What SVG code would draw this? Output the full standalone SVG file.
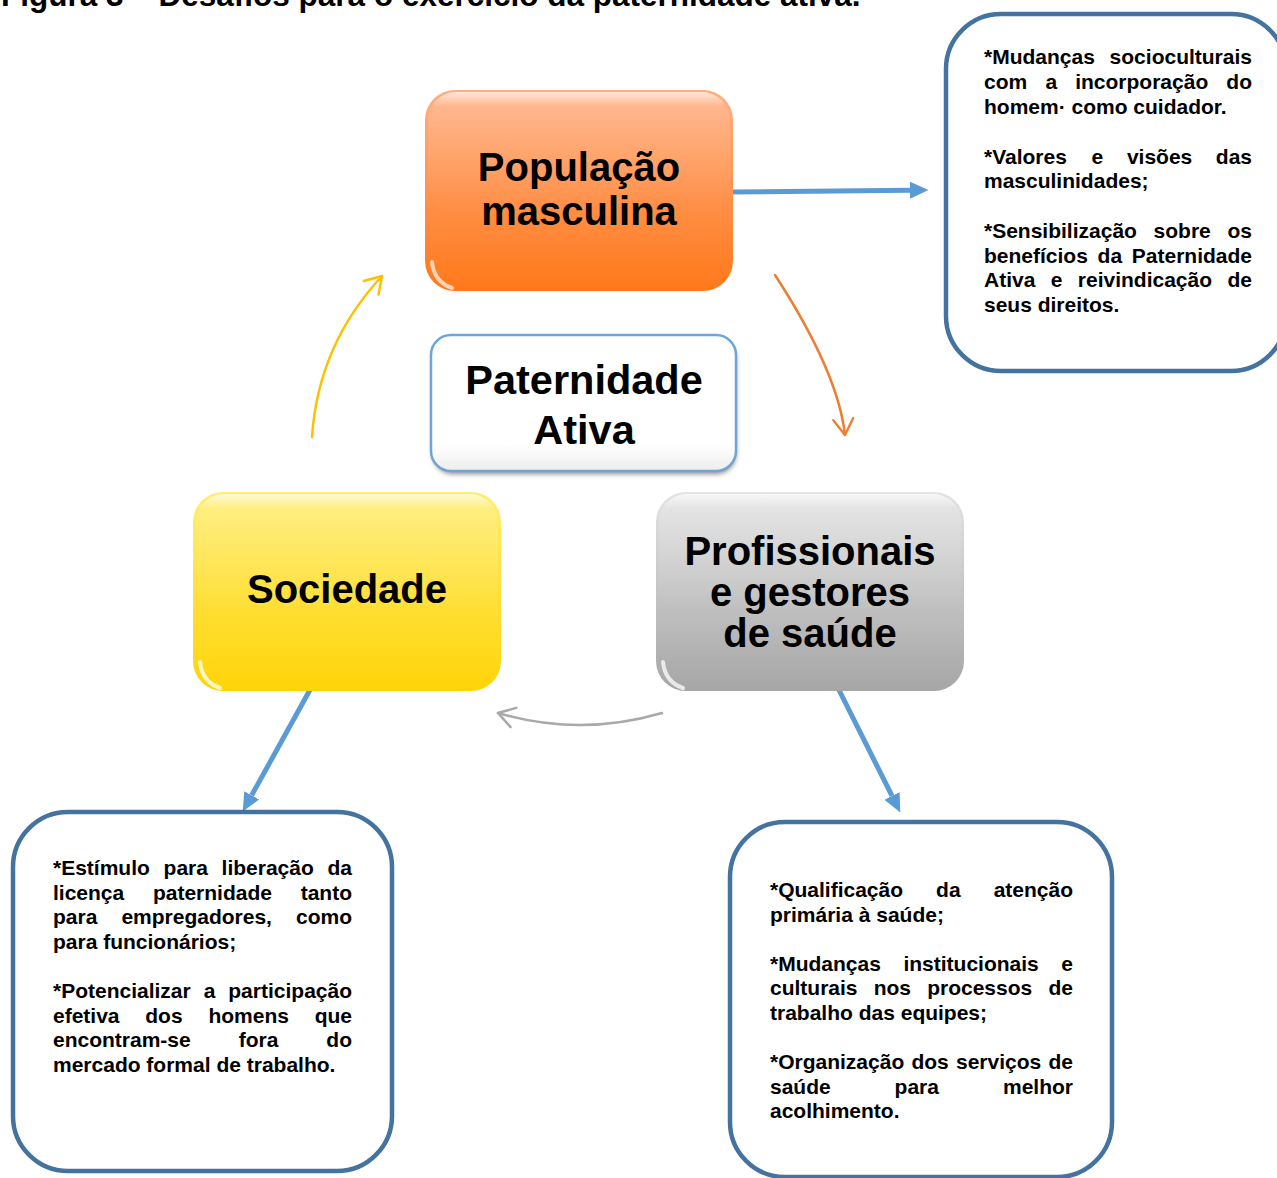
<svg xmlns="http://www.w3.org/2000/svg" width="1277" height="1178" viewBox="0 0 1277 1178">
<style>
text{font-family:"Liberation Sans",Arial,sans-serif;font-weight:bold;fill:#000}
.title{font-size:31.5px}
.big{font-size:40px;text-anchor:middle}
.body{font-size:21px}
.e{text-anchor:end}
.tbox{fill:#fff;stroke:#44739F;stroke-width:4.5}
.blue{stroke:#5B9BD5;stroke-width:5;fill:none}
.curve{fill:none;stroke-width:2.5;stroke-linecap:round}
</style>
<defs>
<linearGradient id="gOr" x1="0" y1="0" x2="0" y2="1">
<stop offset="0" stop-color="#FFAE82"/><stop offset="1" stop-color="#FF781A"/>
</linearGradient>
<linearGradient id="gYe" x1="0" y1="0" x2="0" y2="1">
<stop offset="0" stop-color="#FFEE72"/><stop offset="1" stop-color="#FFD408"/>
</linearGradient>
<linearGradient id="gGr" x1="0" y1="0" x2="0" y2="1">
<stop offset="0" stop-color="#E4E4E4"/><stop offset="1" stop-color="#A6A6A6"/>
</linearGradient>
<linearGradient id="gWh" x1="0" y1="0" x2="0" y2="1">
<stop offset="0" stop-color="#FFFFFF"/><stop offset="0.8" stop-color="#FFFFFF"/><stop offset="1" stop-color="#EDEDED"/>
</linearGradient>
<linearGradient id="gGloss" x1="0" y1="0" x2="0" y2="1">
<stop offset="0" stop-color="#FFFFFF" stop-opacity="0.7"/><stop offset="0.12" stop-color="#FFFFFF" stop-opacity="0.15"/><stop offset="1" stop-color="#FFFFFF" stop-opacity="0"/>
</linearGradient>
<filter id="shadow" x="-10%" y="-10%" width="120%" height="130%">
<feGaussianBlur stdDeviation="2.5"/>
</filter>
<marker id="mBlue" viewBox="0 -9 19 18" markerWidth="19" markerHeight="18" refX="0" refY="0" orient="auto" markerUnits="userSpaceOnUse">
<path d="M0,-8.5 L18.5,0 L0,8.5 Z" fill="#5B9BD5"/>
</marker>
<marker id="mYe" viewBox="-20 -12 24 24" markerWidth="24" markerHeight="24" refX="0" refY="0" orient="auto" markerUnits="userSpaceOnUse">
<path d="M-16,-10 L0,0 L-16,10" fill="none" stroke="#FFC000" stroke-width="2.5" stroke-linecap="round" stroke-linejoin="round"/>
</marker>
<marker id="mOr" viewBox="-20 -12 24 24" markerWidth="24" markerHeight="24" refX="0" refY="0" orient="auto" markerUnits="userSpaceOnUse">
<path d="M-16,-10 L0,0 L-16,10" fill="none" stroke="#ED7D31" stroke-width="2.3" stroke-linecap="round" stroke-linejoin="round"/>
</marker>
<marker id="mGr" viewBox="-20 -12 24 24" markerWidth="24" markerHeight="24" refX="0" refY="0" orient="auto" markerUnits="userSpaceOnUse">
<path d="M-16,-10 L0,0 L-16,10" fill="none" stroke="#A9A9A9" stroke-width="2.5" stroke-linecap="round" stroke-linejoin="round"/>
</marker>
</defs>
<rect width="1277" height="1178" fill="#fff"/>

<text class="title" x="1" y="6">Figura 3 – Desafios para o exercício da paternidade ativa.</text>

<g id="connectors">
<line class="blue" x1="730" y1="192" x2="910" y2="190.2" marker-end="url(#mBlue)"/>
<line class="blue" x1="311" y1="688" x2="251.7" y2="795.3" marker-end="url(#mBlue)"/>
<line class="blue" x1="838" y1="688" x2="892" y2="795.9" marker-end="url(#mBlue)"/>
<path class="curve" stroke="#FFC000" d="M312,437 Q318,345 382,276" marker-end="url(#mYe)"/>
<path class="curve" stroke="#ED7D31" stroke-width="2.2" d="M775,275 Q838,372 845,435" marker-end="url(#mOr)"/>
<path class="curve" stroke="#A9A9A9" d="M662,713 Q580,737 498,713" marker-end="url(#mGr)"/>
</g>

<g id="node-populacao">
<rect x="425" y="90" width="308" height="201" rx="30" fill="url(#gOr)"/>
<rect x="428" y="92" width="302" height="120" rx="28" fill="url(#gGloss)"/>
<path d="M432,262 Q434,282 452,288" fill="none" stroke="#FFE2CC" stroke-width="4" stroke-linecap="round" opacity="0.85"/>
<text class="big" x="579" y="181">População</text>
<text class="big" x="579" y="225">masculina</text>
</g>

<g id="node-paternidade">
<rect x="433" y="339" width="303" height="135" rx="20" fill="#8C8C8C" filter="url(#shadow)"/>
<rect x="431" y="335" width="305" height="136" rx="20" fill="url(#gWh)" stroke="#6FA4D8" stroke-width="2.5"/>
<text class="big" x="584" y="394" style="font-size:41.5px">Paternidade</text>
<text class="big" x="584" y="444" style="font-size:41.5px">Ativa</text>
</g>

<g id="node-sociedade">
<rect x="193" y="492" width="308" height="199" rx="30" fill="url(#gYe)"/>
<rect x="196" y="494" width="302" height="120" rx="28" fill="url(#gGloss)"/>
<path d="M200,662 Q202,682 220,688" fill="none" stroke="#FFFBE0" stroke-width="4" stroke-linecap="round" opacity="0.85"/>
<text class="big" x="347" y="603">Sociedade</text>
</g>

<g id="node-profissionais">
<rect x="656" y="492" width="308" height="199" rx="30" fill="url(#gGr)"/>
<rect x="659" y="494" width="302" height="120" rx="28" fill="url(#gGloss)"/>
<path d="M663,662 Q665,682 683,688" fill="none" stroke="#F4F4F4" stroke-width="4" stroke-linecap="round" opacity="0.85"/>
<text class="big" x="810" y="565">Profissionais</text>
<text class="big" x="810" y="606">e gestores</text>
<text class="big" x="810" y="647">de saúde</text>
</g>

<g id="box-populacao">
<rect class="tbox" x="946" y="14" width="340" height="357" rx="55"/>
<text class="body" y="64"><tspan x="984">*Mudanças</tspan><tspan class="e" x="1252">socioculturais</tspan></text>
<text class="body" y="89"><tspan x="984">com</tspan><tspan x="1045.4">a</tspan><tspan x="1075.2">incorporação</tspan><tspan class="e" x="1252">do</tspan></text>
<text class="body" y="114"><tspan x="984">homem· como cuidador.</tspan></text>
<text class="body" y="163.5"><tspan x="984">*Valores</tspan><tspan x="1091.6">e</tspan><tspan x="1126.9">visões</tspan><tspan class="e" x="1252">das</tspan></text>
<text class="body" y="188.3"><tspan x="984">masculinidades;</tspan></text>
<text class="body" y="237.8"><tspan x="984">*Sensibilização</tspan><tspan x="1153.6">sobre</tspan><tspan class="e" x="1252">os</tspan></text>
<text class="body" y="262.6"><tspan x="984">benefícios</tspan><tspan x="1097.6">da</tspan><tspan class="e" x="1252">Paternidade</tspan></text>
<text class="body" y="287.4"><tspan x="984">Ativa</tspan><tspan x="1050.7">e</tspan><tspan x="1077.8">reivindicação</tspan><tspan class="e" x="1252">de</tspan></text>
<text class="body" y="312.2"><tspan x="984">seus direitos.</tspan></text>
</g>

<g id="box-sociedade">
<rect class="tbox" x="13" y="812" width="379" height="359" rx="55"/>
<text class="body" y="875"><tspan x="53">*Estímulo</tspan><tspan x="163.6">para</tspan><tspan x="221.6">liberação</tspan><tspan class="e" x="352">da</tspan></text>
<text class="body" y="899.6"><tspan x="53">licença</tspan><tspan x="152.9">paternidade</tspan><tspan class="e" x="352">tanto</tspan></text>
<text class="body" y="924.2"><tspan x="53">para</tspan><tspan x="121.4">empregadores,</tspan><tspan class="e" x="352">como</tspan></text>
<text class="body" y="948.8"><tspan x="53">para funcionários;</tspan></text>
<text class="body" y="998"><tspan x="53">*Potencializar</tspan><tspan x="203.7">a</tspan><tspan class="e" x="352">participação</tspan></text>
<text class="body" y="1022.6"><tspan x="53">efetiva</tspan><tspan x="145.3">dos</tspan><tspan x="208.4">homens</tspan><tspan class="e" x="352">que</tspan></text>
<text class="body" y="1047.2"><tspan x="53">encontram-se</tspan><tspan x="238.7">fora</tspan><tspan class="e" x="352">do</tspan></text>
<text class="body" y="1071.8"><tspan x="53">mercado formal de trabalho.</tspan></text>
</g>

<g id="box-profissionais">
<rect class="tbox" x="730" y="822" width="382" height="355" rx="55"/>
<text class="body" y="897"><tspan x="770">*Qualificação</tspan><tspan x="936.1">da</tspan><tspan class="e" x="1073">atenção</tspan></text>
<text class="body" y="921.6"><tspan x="770">primária à saúde;</tspan></text>
<text class="body" y="970.8"><tspan x="770">*Mudanças</tspan><tspan x="903.4">institucionais</tspan><tspan class="e" x="1073">e</tspan></text>
<text class="body" y="995.4"><tspan x="770">culturais</tspan><tspan x="873.7">nos</tspan><tspan x="927.2">processos</tspan><tspan class="e" x="1073">de</tspan></text>
<text class="body" y="1020"><tspan x="770">trabalho das equipes;</tspan></text>
<text class="body" y="1069.2"><tspan x="770">*Organização</tspan><tspan x="911.4">dos</tspan><tspan x="956">serviços</tspan><tspan class="e" x="1073">de</tspan></text>
<text class="body" y="1093.8"><tspan x="770">saúde</tspan><tspan x="894.6">para</tspan><tspan class="e" x="1073">melhor</tspan></text>
<text class="body" y="1118.4"><tspan x="770">acolhimento.</tspan></text>
</g>
</svg>
